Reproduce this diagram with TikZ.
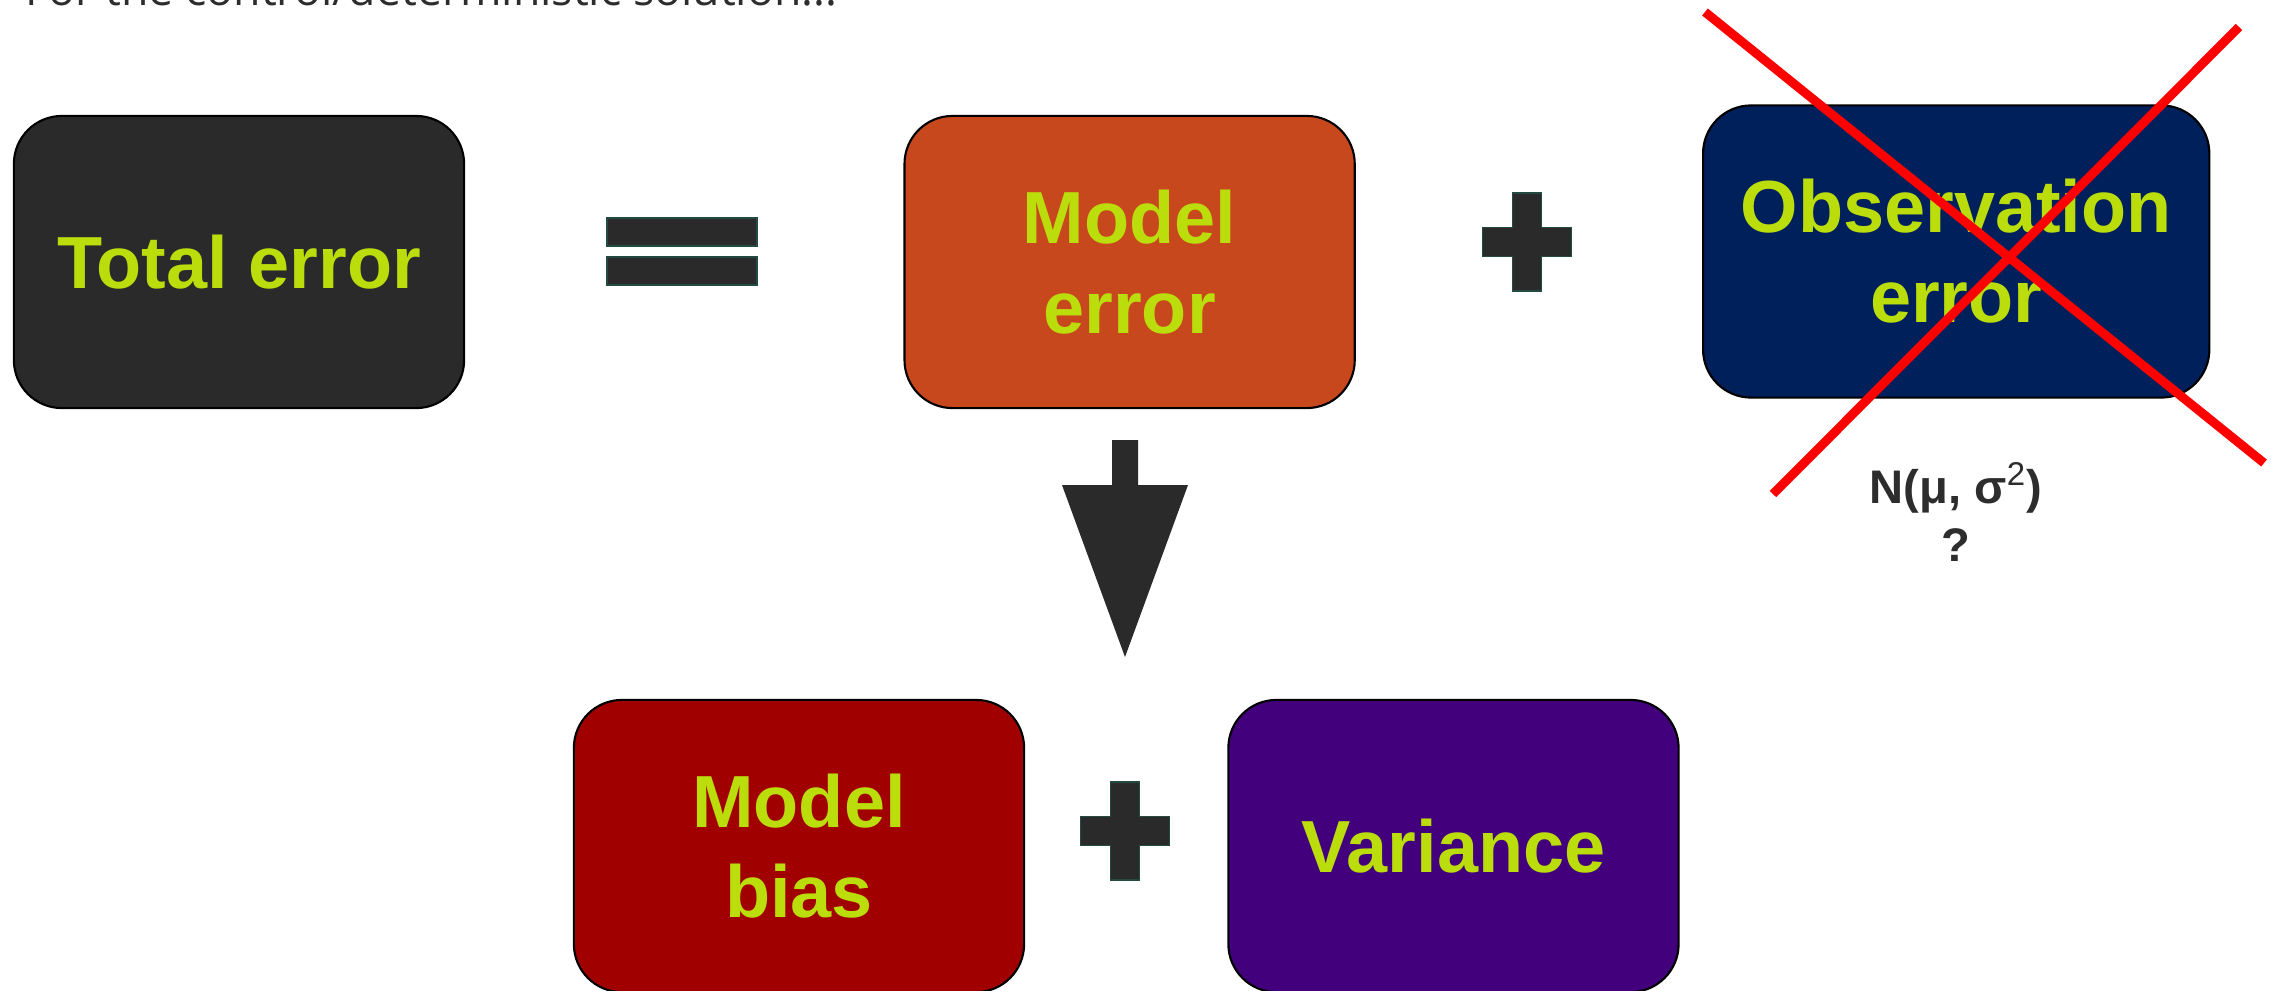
\documentclass[tikz,border=0pt]{standalone}
\usepackage{fontspec}
\setmainfont{Liberation Sans}
\newfontfamily\capfont{Open Sans}
\usetikzlibrary{positioning}

\definecolor{boxtext}{RGB}{187,221,11}
\definecolor{darkfill}{RGB}{42,42,42}
\definecolor{modelred}{RGB}{200,72,30}
\definecolor{obsnavy}{RGB}{0,32,91}
\definecolor{biasred}{RGB}{160,0,0}
\definecolor{varpurple}{RGB}{66,0,124}
\definecolor{symedge}{RGB}{35,75,65}
\definecolor{labelgray}{RGB}{45,45,45}

\tikzset{
  plussign/.pic={
    \draw[symbol] (-14.5,-49) -- (14.5,-49) -- (14.5,-14.5) -- (44.5,-14.5)
      -- (44.5,14.5) -- (14.5,14.5) -- (14.5,49) -- (-14.5,49) -- (-14.5,14.5)
      -- (-44.5,14.5) -- (-44.5,-14.5) -- (-14.5,-14.5) -- cycle;
  }
}

\begin{document}
\begin{tikzpicture}[x=0.01cm, y=-0.01cm,
    errbox/.style={draw=black, line width=0.6pt, rounded corners=0.48cm,
      minimum width=4.5cm, minimum height=2.92cm, inner sep=0pt, align=center,
      text=boxtext, font=\fontsize{21}{25.6}\selectfont\bfseries},
    symbol/.style={fill=darkfill, draw=symedge, line width=0.5pt},
    cross/.style={draw=red, line width=0.09cm}]
  \useasboundingbox (0,0) rectangle (2274,990);

  % heading, cut by the top edge
  \node[anchor=base west, inner sep=0pt, text=labelgray,
    font=\capfont\fontsize{12.7}{15}\selectfont] (head) at (25,5)
    {For the control/deterministic solution...};

  % top row
  \node[errbox, fill=darkfill] (total) at (239,262) {Total error};
  \node[errbox, fill=modelred, right=4.38cm of total] (moderr) {Model\\error};
  \node[errbox, fill=obsnavy, minimum width=5.06cm, yshift=0.105cm,
    right=3.46cm of moderr] (obserr) {Observation\\error};
  \node[below=0.63cm of obserr, inner sep=0pt, align=center, text=labelgray,
    font=\fontsize{13.4}{16.3}\selectfont\bfseries] (dist)
    {N(μ, σ\textsuperscript{\mdseries 2})\\?};

  \draw[symbol] (607,218) rectangle (757,246);
  \draw[symbol] (607,257) rectangle (757,285);
  \pic at (1527,242) {plussign};

  % struck out
  \draw[cross] (1705,12) -- (2264,463);
  \draw[cross] (1773,494) -- (2239,27);

  % block arrow down
  \fill[darkfill] (1112,440) -- (1138,440) -- (1138,485) -- (1188,485)
    -- (1125,657) -- (1062,485) -- (1112,485) -- cycle;

  % bottom row
  \node[errbox, fill=biasred] (bias) at (799,846) {Model\\bias};
  \node[errbox, fill=varpurple, right=2.02cm of bias] (var) {Variance};
  \pic at (1125,831) {plussign};
\end{tikzpicture}
\end{document}
